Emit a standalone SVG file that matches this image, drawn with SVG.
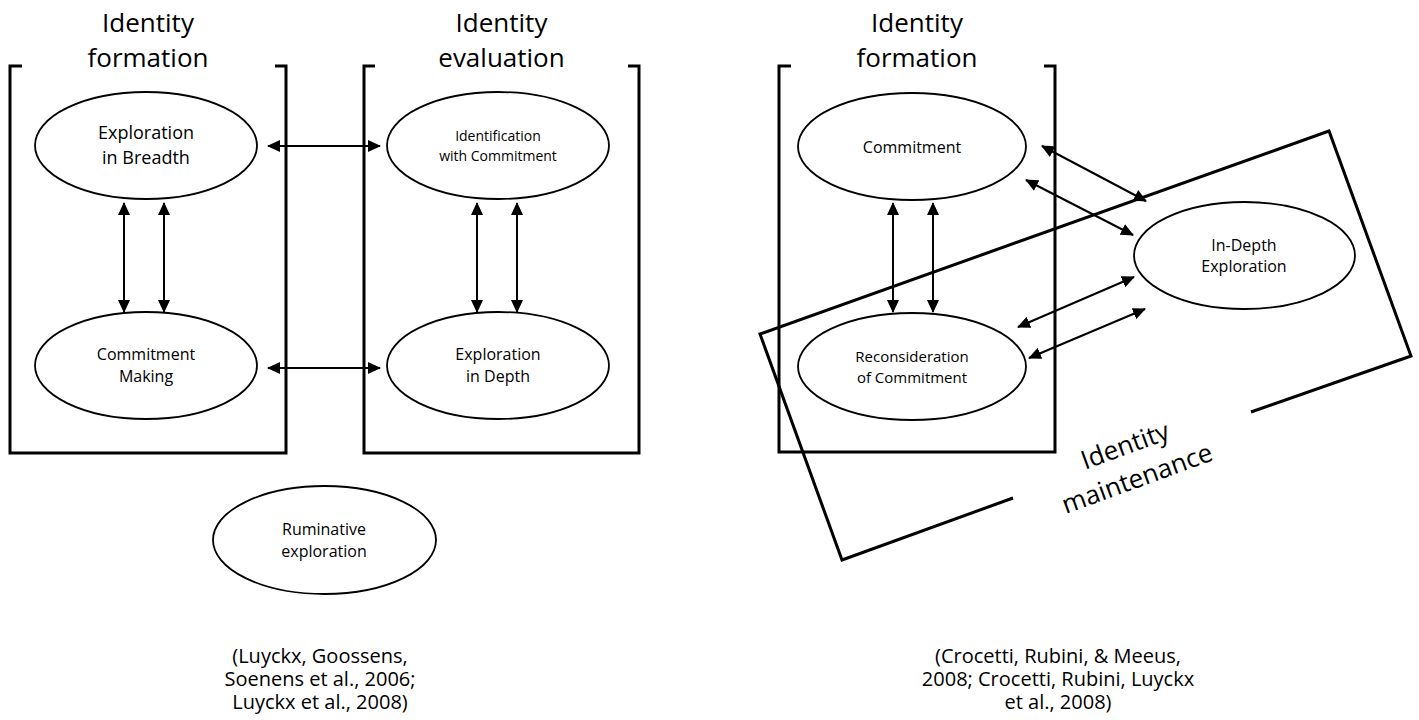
<svg xmlns="http://www.w3.org/2000/svg" width="1419" height="720" viewBox="0 0 1419 720">
<style>
text{font-family:"Open Sans","Noto Sans","Liberation Sans",sans-serif;fill:#000;text-anchor:middle}
.title{font-size:26px}
.lbl{font-size:16px}
.cite{font-size:20px}
.frame{fill:none;stroke:#000;stroke-width:3;stroke-linejoin:miter}
.node{fill:#fff;stroke:#000;stroke-width:1.8}
.arr{fill:none;stroke:#000;stroke-width:2;marker-start:url(#ah);marker-end:url(#ah)}
</style>
<defs>
<marker id="ah" viewBox="0 0 13 12" refX="12" refY="6" markerWidth="13" markerHeight="12" markerUnits="userSpaceOnUse" orient="auto-start-reverse">
<path d="M0,0 L13,6 L0,12 z" fill="#000"/>
</marker>
</defs>
<rect width="1419" height="720" fill="#fff"/>

<g id="frame-formation-left">
<path class="frame" d="M22,66 H10 V453 H286 V66 H275"/>
<text class="title" x="148" y="32">Identity</text>
<text class="title" x="148" y="67">formation</text>
</g>
<g id="frame-evaluation">
<path class="frame" d="M375,66 H364 V453 H639 V66 H628"/>
<text class="title" x="501.5" y="32">Identity</text>
<text class="title" x="501.5" y="67">evaluation</text>
</g>
<g id="frame-formation-right">
<path class="frame" d="M791,66 H779 V452 H1055 V66 H1044"/>
<text class="title" x="917" y="32">Identity</text>
<text class="title" x="917" y="67">formation</text>
</g>
<g id="frame-maintenance">
<path class="frame" d="M1013,498 L842,560 L760,334 L1329,131 L1411,356 L1251,412"/>
<g transform="translate(1134,470) rotate(-20)">
<text class="title" x="0" y="-17">Identity</text>
<text class="title" x="0" y="18">maintenance</text>
</g>
</g>

<g id="node-exploration-breadth">
<ellipse class="node" cx="146" cy="145.5" rx="111" ry="53.5"/>
<text style="font-size:18px" x="146" y="139">Exploration</text>
<text style="font-size:18px" x="146" y="164">in Breadth</text>
</g>
<g id="node-commitment-making">
<ellipse class="node" cx="146" cy="365.5" rx="111" ry="53.5"/>
<text class="lbl" x="146" y="360">Commitment</text>
<text class="lbl" x="146" y="382">Making</text>
</g>
<g id="node-identification">
<ellipse class="node" cx="498" cy="145.5" rx="111" ry="53.5"/>
<text style="font-size:14px" x="498" y="141">Identification</text>
<text style="font-size:14px" x="498" y="161">with Commitment</text>
</g>
<g id="node-exploration-depth">
<ellipse class="node" cx="498" cy="365.5" rx="111" ry="53.5"/>
<text class="lbl" x="498" y="360">Exploration</text>
<text class="lbl" x="498" y="382">in Depth</text>
</g>
<g id="node-ruminative">
<ellipse class="node" cx="324.5" cy="540" rx="111.5" ry="54"/>
<text class="lbl" x="324" y="535">Ruminative</text>
<text class="lbl" x="324" y="557">exploration</text>
</g>
<g id="node-commitment">
<ellipse class="node" cx="912" cy="146.5" rx="114" ry="53.5"/>
<text class="lbl" x="912" y="153">Commitment</text>
</g>
<g id="node-reconsideration">
<ellipse class="node" cx="912" cy="366.5" rx="114" ry="53.5"/>
<text class="lbl" style="font-size:15px" x="912" y="362">Reconsideration</text>
<text class="lbl" style="font-size:15px" x="912" y="383">of Commitment</text>
</g>
<g id="node-indepth">
<ellipse class="node" cx="1244.5" cy="255.5" rx="110.5" ry="53.5"/>
<text class="lbl" x="1244" y="251">In-Depth</text>
<text class="lbl" x="1244" y="272">Exploration</text>
</g>

<g id="connectors">
<line class="arr" x1="124" y1="203" x2="124" y2="312"/>
<line class="arr" x1="164" y1="203" x2="164" y2="312"/>
<line class="arr" x1="477" y1="203" x2="477" y2="312"/>
<line class="arr" x1="517" y1="203" x2="517" y2="312"/>
<line class="arr" x1="893" y1="203" x2="893" y2="312"/>
<line class="arr" x1="933" y1="203" x2="933" y2="312"/>
<line class="arr" x1="268" y1="146" x2="380" y2="146"/>
<line class="arr" x1="268" y1="368" x2="380" y2="368"/>
<line class="arr" x1="1042" y1="146" x2="1146" y2="201"/>
<line class="arr" x1="1026" y1="180" x2="1133" y2="235"/>
<line class="arr" x1="1018" y1="327" x2="1134" y2="277"/>
<line class="arr" x1="1029" y1="358" x2="1145" y2="309"/>
</g>

<g id="citation-left">
<text class="cite" x="320" y="663">(Luyckx, Goossens,</text>
<text class="cite" x="320" y="686">Soenens et al., 2006;</text>
<text class="cite" x="320" y="709">Luyckx et al., 2008)</text>
</g>
<g id="citation-right">
<text class="cite" x="1058" y="663">(Crocetti, Rubini, &amp; Meeus,</text>
<text class="cite" x="1058" y="686">2008; Crocetti, Rubini, Luyckx</text>
<text class="cite" x="1058" y="709">et al., 2008)</text>
</g>
</svg>
